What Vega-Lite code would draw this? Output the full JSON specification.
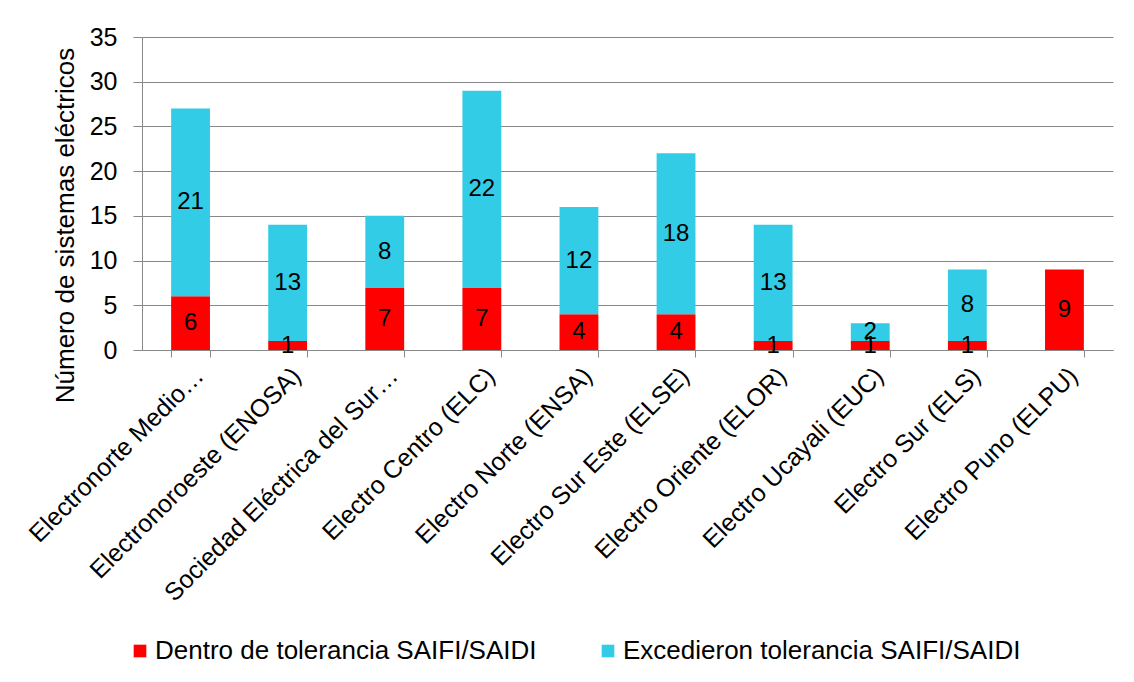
{
  "$schema": "https://vega.github.io/schema/vega-lite/v6.json",
  "autosize": {"type": "none"},
  "width": 971,
  "height": 313,
  "padding": {"left": 142, "top": 37, "right": 21, "bottom": 332},
  "background": "white",
  "config": {
    "font": "Liberation Sans",
    "view": {"stroke": null},
    "axis": {"labelFont": "Liberation Sans", "titleFont": "Liberation Sans", "labelColor": "black", "titleColor": "black"}
  },
  "data": {
    "values": [
      {"empresa": "Electronorte Medio…", "serie": "Dentro de tolerancia SAIFI/SAIDI", "n": 6},
      {"empresa": "Electronorte Medio…", "serie": "Excedieron tolerancia SAIFI/SAIDI", "n": 21},
      {"empresa": "Electronoroeste (ENOSA)", "serie": "Dentro de tolerancia SAIFI/SAIDI", "n": 1},
      {"empresa": "Electronoroeste (ENOSA)", "serie": "Excedieron tolerancia SAIFI/SAIDI", "n": 13},
      {"empresa": "Sociedad Eléctrica del Sur…", "serie": "Dentro de tolerancia SAIFI/SAIDI", "n": 7},
      {"empresa": "Sociedad Eléctrica del Sur…", "serie": "Excedieron tolerancia SAIFI/SAIDI", "n": 8},
      {"empresa": "Electro Centro (ELC)", "serie": "Dentro de tolerancia SAIFI/SAIDI", "n": 7},
      {"empresa": "Electro Centro (ELC)", "serie": "Excedieron tolerancia SAIFI/SAIDI", "n": 22},
      {"empresa": "Electro Norte (ENSA)", "serie": "Dentro de tolerancia SAIFI/SAIDI", "n": 4},
      {"empresa": "Electro Norte (ENSA)", "serie": "Excedieron tolerancia SAIFI/SAIDI", "n": 12},
      {"empresa": "Electro Sur Este (ELSE)", "serie": "Dentro de tolerancia SAIFI/SAIDI", "n": 4},
      {"empresa": "Electro Sur Este (ELSE)", "serie": "Excedieron tolerancia SAIFI/SAIDI", "n": 18},
      {"empresa": "Electro Oriente (ELOR)", "serie": "Dentro de tolerancia SAIFI/SAIDI", "n": 1},
      {"empresa": "Electro Oriente (ELOR)", "serie": "Excedieron tolerancia SAIFI/SAIDI", "n": 13},
      {"empresa": "Electro Ucayali (EUC)", "serie": "Dentro de tolerancia SAIFI/SAIDI", "n": 1},
      {"empresa": "Electro Ucayali (EUC)", "serie": "Excedieron tolerancia SAIFI/SAIDI", "n": 2},
      {"empresa": "Electro Sur (ELS)", "serie": "Dentro de tolerancia SAIFI/SAIDI", "n": 1},
      {"empresa": "Electro Sur (ELS)", "serie": "Excedieron tolerancia SAIFI/SAIDI", "n": 8},
      {"empresa": "Electro Puno (ELPU)", "serie": "Dentro de tolerancia SAIFI/SAIDI", "n": 9},
      {"empresa": "Electro Puno (ELPU)", "serie": "Excedieron tolerancia SAIFI/SAIDI", "n": 0}
    ]
  },
  "encoding": {
    "x": {
      "field": "empresa",
      "type": "nominal",
      "sort": null,
      "scale": {"paddingInner": 0.6, "paddingOuter": 0.3},
      "axis": {
        "title": null,
        "labelAngle": -45,
        "labelFontSize": 25,
        "labelLimit": 400,
        "labelPadding": 6,
        "tickBand": "extent",
        "tickSize": 7,
        "tickColor": "#888888",
        "domainColor": "#888888",
        "grid": false
      }
    }
  },
  "layer": [
    {
      "mark": {"type": "bar"},
      "encoding": {
        "y": {
          "field": "n",
          "type": "quantitative",
          "stack": "zero",
          "scale": {"domain": [0, 35], "nice": false},
          "axis": {
            "title": "Número de sistemas eléctricos",
            "titleFontSize": 26,
            "titleFontWeight": "normal",
            "titlePadding": 11,
            "titleY": 188,
            "labelFontSize": 25,
            "labelPadding": 16,
            "values": [0, 5, 10, 15, 20, 25, 30, 35],
            "tickSize": 9,
            "tickColor": "#888888",
            "domainColor": "#888888",
            "gridColor": "#888888",
            "grid": true
          }
        },
        "color": {
          "field": "serie",
          "type": "nominal",
          "scale": {
            "domain": ["Dentro de tolerancia SAIFI/SAIDI", "Excedieron tolerancia SAIFI/SAIDI"],
            "range": ["#FF0000", "#33CCE6"]
          },
          "legend": {
            "title": null,
            "orient": "none",
            "direction": "horizontal",
            "legendX": -15,
            "legendY": 601,
            "labelFontSize": 26,
            "labelFont": "Liberation Sans",
            "labelColor": "black",
            "symbolType": "square",
            "symbolSize": 160,
            "symbolStrokeWidth": 0,
            "labelOffset": 2,
            "columnPadding": 58,
            "labelLimit": 500
          }
        },
        "order": {"field": "serie", "sort": "ascending"}
      }
    },
    {
      "transform": [
        {"stack": "n", "groupby": ["empresa"], "sort": [{"field": "serie", "order": "ascending"}], "as": ["y0", "y1"]},
        {"calculate": "(datum.y0 + datum.y1) / 2", "as": "mid"},
        {"filter": "datum.n > 0"}
      ],
      "mark": {"type": "text", "fontSize": 24, "color": "black", "font": "Liberation Sans", "baseline": "middle"},
      "encoding": {
        "y": {"field": "mid", "type": "quantitative"},
        "text": {"field": "n", "type": "quantitative"}
      }
    }
  ]
}
